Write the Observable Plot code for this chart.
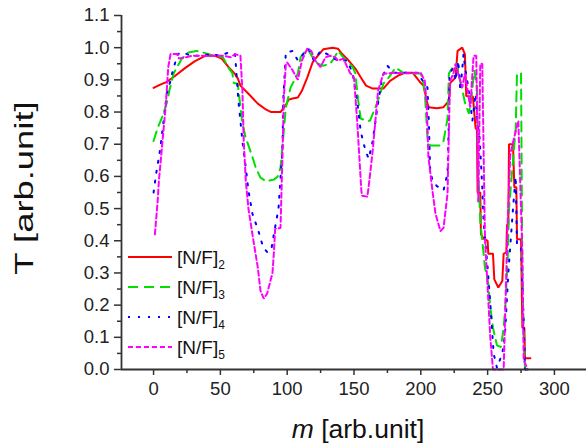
<!DOCTYPE html>
<html><head><meta charset="utf-8">
<script src="https://cdn.jsdelivr.net/npm/d3@7"></script>
<script src="https://cdn.jsdelivr.net/npm/@observablehq/plot@0.6"></script>
<style>
body{margin:0;background:#fff;}
#wrap{position:relative;width:586px;height:447px;}
svg{font-family:Arial,"Liberation Sans",sans-serif;}
</style></head><body><div id="wrap"></div>
<script>
// [N/F]2 (red, solid)
const m2=[0,5,10,16,24,31,39,46,51,56,61,62,63,65,71,78,84,88,95,99,101,104,108,111,115,119,123,127,134,138,141,146,151,155,159,164,172,177,183,188,194,199,202,205,206,212,217,221,222,226,227.5,231,233,234,239,241,242,242.5,244.5,245,247,250,250.5,254,255,258,261,262,264,264.5,265.5,266,269,270,271.5,272,275,276,277.5,278,282];
const t2=[0.875,0.885,0.894,0.912,0.938,0.958,0.975,0.975,0.966,0.94,0.918,0.91,0.905,0.882,0.857,0.826,0.808,0.80,0.80,0.822,0.838,0.842,0.845,0.866,0.907,0.954,0.975,0.995,1.0,0.997,0.981,0.96,0.935,0.908,0.882,0.873,0.873,0.897,0.913,0.922,0.922,0.895,0.882,0.825,0.815,0.812,0.815,0.835,0.89,0.907,0.99,1.0,0.98,0.85,0.848,0.75,0.745,0.55,0.55,0.42,0.407,0.40,0.36,0.36,0.28,0.255,0.275,0.36,0.363,0.45,0.45,0.70,0.70,0.566,0.566,0.405,0.405,0.13,0.13,0.035,0.035];
// [N/F]3 (green, dashed)
const m3=[0,3,7,10,12,15,21,26,32,37,45,52,56,59,60,63,66.5,69,74,76.5,80,84,90,93,95,97,99,102.5,108,110,115,119,123,127,132,135,138,142,149,151,153,155,159,162,167.5,172,176,181,187,192,200,202,203,205,207,214,217,220,221,224.5,227.5,228,231,233,236,238,240,242,243,244.5,246,247,248,250.5,252,254,257,260,262,263,265,266,269,271,272,275,276,277,278,282];
const t3=[0.71,0.75,0.79,0.83,0.87,0.92,0.965,0.985,0.99,0.985,0.975,0.97,0.938,0.92,0.89,0.888,0.764,0.72,0.66,0.627,0.596,0.585,0.59,0.60,0.627,0.72,0.814,0.876,0.92,0.97,0.997,0.97,0.95,0.944,0.95,0.966,0.99,0.97,0.94,0.92,0.84,0.78,0.773,0.773,0.83,0.888,0.907,0.938,0.922,0.92,0.92,0.89,0.86,0.72,0.696,0.696,0.71,0.78,0.92,0.944,0.95,0.92,0.87,0.83,0.795,0.85,0.93,0.88,0.62,0.46,0.40,0.36,0.317,0.267,0.193,0.13,0.075,0.07,0.13,0.18,0.34,0.50,0.65,0.75,0.92,0.92,0.30,0.10,0.0,0.0];
// [N/F]4 (blue, dotted)
const m4=[0,2,5,7.5,10,12.7,14,18,22,28,35,43,50,56,61,63.5,66.5,69,71,74,78.5,82,85,88,90,93.5,96.5,97,99,104,108,112,116,120,125,130,137.6,145,149,152.5,155,158.6,161,164,167.5,171,175,179.5,187,197,201,205,206,207,208.7,212,217,220,221,221.5,224,226,228,229.6,232,233,235.6,238.6,241,242,244,246,247,250,252,254.5,257,261,263,265.5,269,271,272,275,277,278,281];
const t4=[0.55,0.61,0.686,0.773,0.86,0.897,0.922,0.98,0.985,0.975,0.975,0.98,0.975,0.985,0.98,0.835,0.71,0.627,0.556,0.484,0.43,0.38,0.365,0.37,0.42,0.50,0.69,0.835,0.985,0.99,0.96,0.98,0.997,0.96,0.99,0.98,0.96,0.96,0.92,0.83,0.74,0.68,0.655,0.71,0.814,0.907,0.944,0.922,0.922,0.922,0.90,0.876,0.77,0.62,0.587,0.57,0.556,0.61,0.773,0.92,0.935,0.897,0.96,0.866,0.98,0.94,0.876,0.773,0.857,0.773,0.72,0.566,0.46,0.317,0.205,0.05,0.005,0.05,0.11,0.30,0.50,0.60,0.385,0.38,0.15,0.0,0.0];
// [N/F]5 (magenta, short dash)
const m5=[1,3,4,6.7,9,11,12.7,18,19,24,29,37,44,52,57.6,61,65,66.5,67.5,69,71,74,78,80,82.5,85,89,90,91,95,96.5,97.5,99,100,104,108,111,115,118,121,125,128.6,132,136,138,142,147,150,152.5,154,155.5,156,160,161.5,164,166,168,172,176,179.5,187,200,203,204.5,205.7,208.7,211,214.7,217,220,220.7,221.4,222,224.5,226,228,231,233,237,239.5,241.5,243,244.5,246,248,250,252,254,262,263,265,267,271,273,274.5,276,277,280];
const t5=[0.42,0.52,0.587,0.71,0.814,0.94,0.98,0.98,0.966,0.97,0.975,0.975,0.975,0.975,0.97,0.98,0.975,0.866,0.71,0.587,0.50,0.42,0.317,0.245,0.22,0.236,0.30,0.36,0.437,0.44,0.67,0.845,0.95,0.954,0.93,0.90,0.96,0.997,0.99,0.96,0.94,0.97,0.975,0.97,0.96,0.966,0.922,0.907,0.764,0.66,0.556,0.54,0.537,0.587,0.68,0.773,0.866,0.92,0.92,0.922,0.92,0.922,0.897,0.814,0.66,0.556,0.484,0.43,0.44,0.547,0.68,0.814,0.897,0.922,0.95,0.92,0.876,0.92,0.814,0.975,0.975,0.52,0.95,0.95,0.41,0.255,0.10,0.0,0.0,0.15,0.46,0.67,0.74,0.773,0.566,0.36,0.03,0.0];

const seriesSubs=["2","3","4","5"];
const seriesColors=["#ff0000","#00e000","#0000ff","#ff00ff"];
const seriesDash=[null,"10,6","2,8","5,3"];
const seriesM=[m2,m3,m4,m5];
const seriesT=[t2,t3,t4,t5];

const xDomain=[-24,324];
const yDomain=[0,1.1];
const xTicks=[0,50,100,150,200,250,300];
const xMinor=[25,75,125,175,225,275];
const yTicks=[0,0.1,0.2,0.3,0.4,0.5,0.6,0.7,0.8,0.9,1.0,1.1];
const yMinor=[0.05,0.15,0.25,0.35,0.45,0.55,0.65,0.75,0.85,0.95,1.05];
const xTitle=["m"," [arb.unit]"];
const yTitle="T [arb.unit]";
const legendBase="[N/F]";

const axisColor="#333";
const lines=seriesM.map((ms,k)=>Plot.line(ms.map((m,i)=>({m,t:seriesT[k][i]})),{
  x:"m",y:"t",stroke:seriesColors[k],strokeWidth:2,
  strokeDasharray:seriesDash[k]||undefined,strokeLinejoin:"miter"}));

const chart=Plot.plot({
  width:586,height:447,
  marginLeft:121,marginRight:0,marginTop:15,marginBottom:78,
  style:{fontFamily:"Arial, 'Liberation Sans', sans-serif",background:"#fff"},
  x:{domain:xDomain,label:null},
  y:{domain:yDomain,label:null},
  marks:[
    ...lines,
    Plot.axisX(xTicks,{tickSize:6,tickPadding:6,fontSize:18.5,stroke:axisColor,fill:"#222",strokeWidth:1.5,tickFormat:d=>String(d),label:null}),
    Plot.axisX(xMinor,{tickSize:4,stroke:axisColor,strokeWidth:1.5,tickFormat:()=>"",label:null}),
    Plot.axisY(yTicks,{tickSize:7,tickPadding:5,fontSize:18.5,stroke:axisColor,fill:"#222",strokeWidth:1.5,tickFormat:d=>d.toFixed(1),label:null}),
    Plot.axisY(yMinor,{tickSize:4,stroke:axisColor,strokeWidth:1.5,tickFormat:()=>"",label:null}),
    Plot.ruleY([yDomain[0]],{stroke:axisColor,strokeWidth:1.8}),
    Plot.ruleX([xDomain[0]],{stroke:axisColor,strokeWidth:1.8})
  ]
});
document.getElementById("wrap").appendChild(chart);

const svg=d3.select(chart);
// axis titles
const xt=svg.append("text").attr("x",358).attr("y",438).attr("text-anchor","middle")
  .attr("font-size",26.5).attr("fill","#111");
xt.append("tspan").attr("font-style","italic").text(xTitle[0]);
xt.append("tspan").text(xTitle[1]);
svg.append("text").attr("transform","translate(33,188) rotate(-90) scale(1.4,1)").attr("text-anchor","middle")
  .attr("font-size",26).attr("fill","#111").text(yTitle);

// legend
const lg=svg.append("g").attr("text-anchor","start");
const ly=[257,287,317,347];
seriesSubs.forEach((s,k)=>{
  const y=ly[k];
  lg.append("line").attr("x1",128).attr("x2",172).attr("y1",y).attr("y2",y)
    .attr("stroke",seriesColors[k]).attr("stroke-width",2)
    .attr("stroke-dasharray",seriesDash[k]);
  const t=lg.append("text").attr("x",177).attr("y",y+7).attr("font-size",19).attr("fill","#111").attr("text-anchor","start");
  t.append("tspan").text(legendBase);
  t.append("tspan").attr("font-size",12).attr("dy",5).text(s);
});
</script></body></html>
